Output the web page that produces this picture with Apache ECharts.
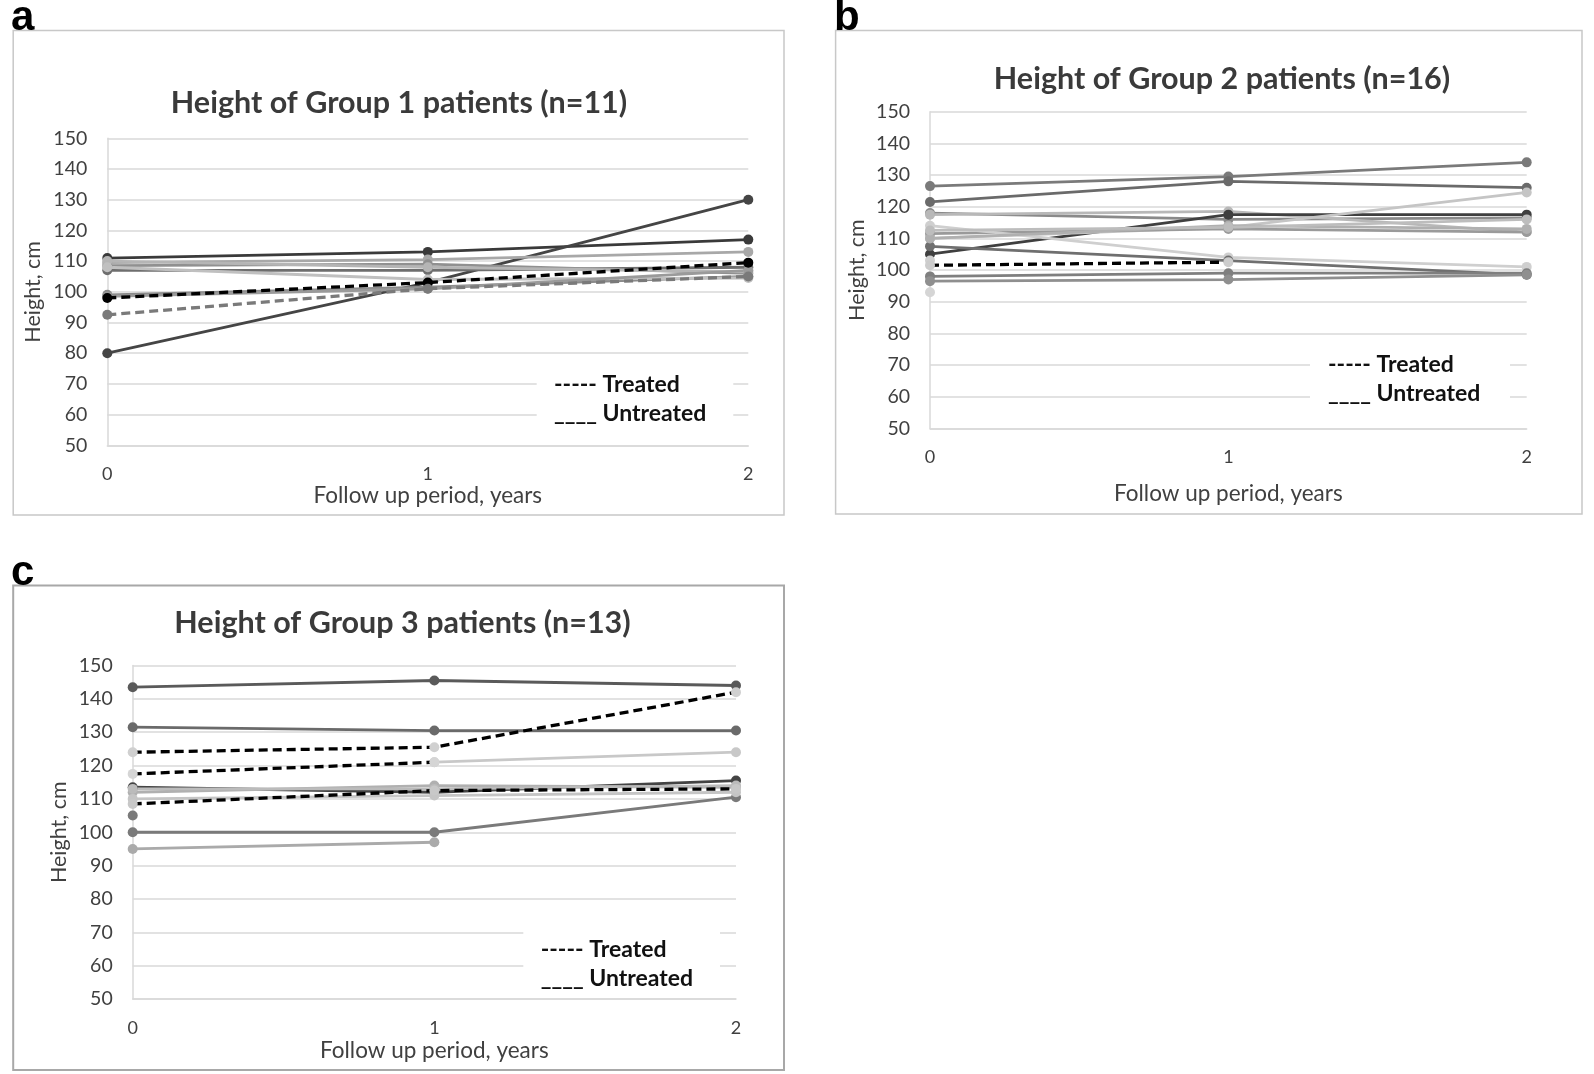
<!DOCTYPE html>
<html>
<head>
<meta charset="utf-8">
<script src="https://cdn.jsdelivr.net/npm/echarts@6/dist/echarts.min.js"></script>
<style>
html,body{margin:0;padding:0;background:#fff;}
#chart{width:1594px;height:1074px;}
</style>
</head>
<body>
<div id="chart"></div>
<script>
// ---------- DATA ----------
const years = ['0', '1', '2'];
const yMin = 50, yMax = 150, yStep = 10;

const panelTitles = ['Height of Group 1 patients (n=11)', 'Height of Group 2 patients (n=16)', 'Height of Group 3 patients (n=13)'];
const panelLetters = ['a', 'b', 'c'];
const xAxisTitle = 'Follow up period, years';
const yAxisTitle = 'Height, cm';
const legendTreated = '----- Treated';
const legendUntreated = '____ Untreated';

// Group 1 (n=11)
const group1Untreated = [
  [111, 113, 117],
  [80, 103, 130],
  [109.5, 110.5, 113],
  [107, 107, 108],
  [108.5, 109, 106],
  [99, 101.5, 105],
  [110, 108, 106.5],
  [108, 104, 104.5],
  [98.5, 101, 107]
];
const group1Treated = [
  [98, 103, 109.5],
  [92.5, 101, 105]
];

// Group 2 (n=16)
const group2Untreated = [
  [126.5, 129.5, 134],
  [121.5, 128, 126],
  [118, 116, 116.5],
  [117.5, 118.5, 112],
  [105, 117.5, 117.5],
  [110, 113.5, 124.5],
  [111.5, 113, 112],
  [114, 104, 101],
  [107.5, 103, 98.5],
  [98, 99, 99],
  [96.5, 97, 98.5],
  [93, null, null],
  [103, null, null],
  [110, 114, 113],
  [112.5, 113.5, 116]
];
const group2Treated = [
  [101.5, 102.5, null]
];

// Group 3 (n=13)
const group3Untreated = [
  [143.5, 145.5, 144],
  [131.5, 130.5, 130.5],
  [null, 121, 124],
  [113.5, 112, 115.5],
  [112, 114, 113.5],
  [105, null, null],
  [100, 100, 110.5],
  [95, 97, null],
  [110, 111, 112],
  [113, 113, 114]
];
const group3Treated = [
  [124, 125.5, 142],
  [117.5, 121, null],
  [108.5, 112.5, 113]
];

// ---------- STYLES ----------
const shades1 = ['#3a3a3a', '#454545', '#a8a8a8', '#6e6e6e', '#909090', '#8a8a8a', '#b5b5b5', '#c0c0c0', '#9a9a9a'];
const treatedShades1 = ['#000000', '#7a7a7a'];
const treatedDots1 = ['#000000', '#7a7a7a'];
const shades2 = ['#7a7a7a', '#6a6a6a', '#8a8a8a', '#b8b8b8', '#3f3f3f', '#c5c5c5', '#9a9a9a', '#cfcfcf', '#6f6f6f', '#7f7f7f', '#8f8f8f', '#d5d5d5', '#d0d0d0', '#b0b0b0', '#bdbdbd'];
const treatedShades2 = ['#000000'];
const treatedDots2 = ['#cccccc'];
const shades3 = ['#5a5a5a', '#6a6a6a', '#c8c8c8', '#444444', '#b0b0b0', '#7a7a7a', '#7a7a7a', '#aaaaaa', '#c5c5c5', '#bbbbbb'];
const treatedShades3 = ['#000000', '#000000', '#000000'];
const treatedDots3 = ['#d0d0d0', '#d5d5d5', '#c8c8c8'];

const FONT = 'Lato, "Open Sans", sans-serif';
const gridColor = '#d9d9d9';
const textColor = '#404040';

const grids = [
  {left: 107.3, top: 138.3, width: 641, height: 307},
  {left: 930, top: 111.7, width: 596.7, height: 316.7},
  {left: 132.7, top: 665.5, width: 603.3, height: 333.5}
];
const titleCenters = [[394, 101.7], [1217, 77.3], [397.5, 622]];
const boxes = [[13.2, 30.5, 784, 515], [835.6, 30.5, 1582, 514], [13.2, 585.6, 784, 1070]];
const letterPos = [[11, 39], [834, 39], [11, 594]];
const xNameGaps = [39, 54, 40];
const yNameGaps = [63, 62, 63];
const legendPos = [[554, 385, 414, 536.7, 733.3, 368, 432], [1328, 365, 394, 1310, 1510, 348, 414], [540.7, 949.3, 978.3, 523.3, 720, 932, 996]];

const groups = [
  [group1Untreated, group1Treated, shades1, treatedShades1, treatedDots1],
  [group2Untreated, group2Treated, shades2, treatedShades2, treatedDots2],
  [group3Untreated, group3Treated, shades3, treatedShades3, treatedDots3]
];

const series = [];
groups.forEach(function (g, gi) {
  g[0].forEach(function (vals, i) {
    series.push({
      type: 'line', xAxisIndex: gi, yAxisIndex: gi, data: vals,
      symbol: 'circle', symbolSize: 10, showAllSymbol: true, connectNulls: false,
      lineStyle: {color: g[2][i], width: 2.8},
      itemStyle: {color: g[2][i]},
      z: 3
    });
  });
  g[1].forEach(function (vals, i) {
    series.push({
      type: 'line', xAxisIndex: gi, yAxisIndex: gi, data: vals,
      symbol: 'circle', symbolSize: 10, showAllSymbol: true, connectNulls: false,
      lineStyle: {color: g[3][i], width: 3.3, type: [9, 5]},
      itemStyle: {color: g[4][i]},
      z: 4
    });
  });
});

const xAxes = grids.map(function (gr, i) {
  return {
    type: 'category', gridIndex: i, data: years, boundaryGap: false,
    axisLine: {show: true, lineStyle: {color: gridColor, width: 1.5}},
    axisTick: {show: false},
    axisLabel: {color: textColor, fontSize: 18, margin: 20, fontFamily: FONT},
    splitLine: {show: false},
    name: xAxisTitle, nameLocation: 'middle', nameGap: xNameGaps[i],
    nameTextStyle: {color: textColor, fontSize: 22.5, fontFamily: FONT}
  };
});
const yAxes = grids.map(function (gr, i) {
  return {
    type: 'value', gridIndex: i, min: yMin, max: yMax, interval: yStep,
    axisLine: {show: true, lineStyle: {color: gridColor, width: 1.5}},
    axisTick: {show: false},
    axisLabel: {color: textColor, fontSize: 19.5, margin: 20, fontFamily: FONT},
    splitLine: {show: true, lineStyle: {color: gridColor, width: 1.5}},
    name: yAxisTitle, nameLocation: 'middle', nameGap: yNameGaps[i], nameRotate: 90,
    nameTextStyle: {color: textColor, fontSize: 21.5, fontFamily: FONT}
  };
});

const graphics = [];
boxes.forEach(function (b, i) {
  graphics.push({type: 'rect', shape: {x: b[0], y: b[1], width: b[2] - b[0], height: b[3] - b[1]},
    style: {fill: 'none', stroke: i === 2 ? '#a8a8a8' : '#c8c8c8', lineWidth: i === 2 ? 2 : 1.5}, z: 1, silent: true});
});
legendPos.forEach(function (p) {
  graphics.push({type: 'rect', shape: {x: p[3], y: p[5], width: p[4] - p[3], height: p[6] - p[5]},
    style: {fill: '#ffffff'}, z: 50, silent: true});
  graphics.push({type: 'text', x: p[0], y: p[1], z: 51,
    style: {text: legendTreated, fill: '#111', font: 'bold 23px ' + FONT, textVerticalAlign: 'middle'}});
  graphics.push({type: 'text', x: p[0], y: p[2], z: 51,
    style: {text: legendUntreated, fill: '#111', font: 'bold 23px ' + FONT, textVerticalAlign: 'middle'}});
});
panelLetters.forEach(function (l, i) {
  graphics.push({type: 'text', x: letterPos[i][0], y: letterPos[i][1], z: 60,
    style: {text: l, fill: '#000', font: 'bold 42px "Liberation Sans Narrow", "Liberation Sans", Arial, sans-serif', textVerticalAlign: 'bottom'}});
});

const titles = panelTitles.map(function (t, i) {
  return {text: t, left: titleCenters[i][0], top: titleCenters[i][1] - 19, textAlign: 'center',
    textStyle: {color: '#3a3a3a', fontSize: 30.5, fontWeight: 'bold', fontFamily: FONT}};
});

const chart = echarts.init(document.getElementById('chart'), null, {renderer: 'canvas'});
chart.setOption({
  animation: false,
  backgroundColor: '#ffffff',
  title: titles,
  grid: grids,
  xAxis: xAxes,
  yAxis: yAxes,
  series: series,
  graphic: graphics
});
</script>
</body>
</html>
